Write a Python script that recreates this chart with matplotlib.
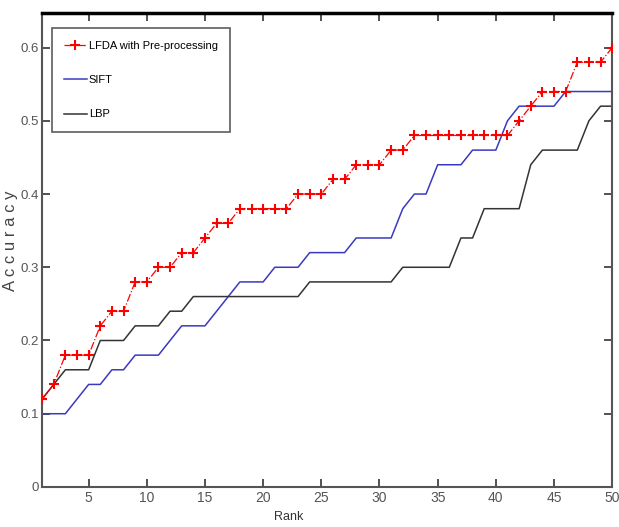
import numpy as np
import matplotlib
matplotlib.use("Agg")
import matplotlib.pyplot as plt

plt.rcParams['font.family'] = ['Liberation Sans', 'DejaVu Sans']

# CMC curves, rank 1..50
rank = np.arange(1, 51)

lfda = [0.12, 0.14, 0.18, 0.18, 0.18, 0.22, 0.24, 0.24, 0.28, 0.28,
        0.30, 0.30, 0.32, 0.32, 0.34, 0.36, 0.36, 0.38, 0.38, 0.38,
        0.38, 0.38, 0.40, 0.40, 0.40, 0.42, 0.42, 0.44, 0.44, 0.44,
        0.46, 0.46, 0.48, 0.48, 0.48, 0.48, 0.48, 0.48, 0.48, 0.48,
        0.48, 0.50, 0.52, 0.54, 0.54, 0.54, 0.58, 0.58, 0.58, 0.60]

sift = [0.10, 0.10, 0.10, 0.12, 0.14, 0.14, 0.16, 0.16, 0.18, 0.18,
        0.18, 0.20, 0.22, 0.22, 0.22, 0.24, 0.26, 0.28, 0.28, 0.28,
        0.30, 0.30, 0.30, 0.32, 0.32, 0.32, 0.32, 0.34, 0.34, 0.34,
        0.34, 0.38, 0.40, 0.40, 0.44, 0.44, 0.44, 0.46, 0.46, 0.46,
        0.50, 0.52, 0.52, 0.52, 0.52, 0.54, 0.54, 0.54, 0.54, 0.54]

lbp = [0.12, 0.14, 0.16, 0.16, 0.16, 0.20, 0.20, 0.20, 0.22, 0.22,
       0.22, 0.24, 0.24, 0.26, 0.26, 0.26, 0.26, 0.26, 0.26, 0.26,
       0.26, 0.26, 0.26, 0.28, 0.28, 0.28, 0.28, 0.28, 0.28, 0.28,
       0.28, 0.30, 0.30, 0.30, 0.30, 0.30, 0.34, 0.34, 0.38, 0.38,
       0.38, 0.38, 0.44, 0.46, 0.46, 0.46, 0.46, 0.50, 0.52, 0.52]

xticks = [5, 10, 15, 20, 25, 30, 35, 40, 45, 50]
yticks = [0, 0.1, 0.2, 0.3, 0.4, 0.5, 0.6]
ytick_labels = ['0', '0.1', '0.2', '0.3', '0.4', '0.5', '0.6']

fig = plt.figure(figsize=(6.19, 5.27), dpi=100)
ax = fig.add_axes([0.068, 0.076, 0.921, 0.899])

ax.plot(rank, lfda, color='red', linestyle='-.', linewidth=0.9,
        marker='+', markersize=6.5, markeredgewidth=1.5,
        label='LFDA with Pre-processing', zorder=3)
ax.plot(rank, sift, color='#3a3ac0', linewidth=1.1, label='SIFT', zorder=2)
ax.plot(rank, lbp, color='#333333', linewidth=1.1, label='LBP', zorder=2)

ax.set_xlim(1, 50)
ax.set_ylim(0, 0.647)
ax.set_xticks(xticks)
ax.set_yticks(yticks)
ax.set_yticklabels(ytick_labels)
ax.tick_params(direction='in', length=6, width=1.2, top=True, right=True,
               labelsize=10, colors='#333333', labelcolor='#555555', pad=3)
ax.tick_params(axis='y', labelsize=9.5, pad=2)

for s in ['left', 'bottom', 'right']:
    ax.spines[s].set_color('#555555')
    ax.spines[s].set_linewidth(1.5)
ax.spines['top'].set_color('black')
ax.spines['top'].set_linewidth(2.5)

ax.set_ylabel('A c c u r a c y', fontsize=12, color='#444444')
ax.yaxis.set_label_coords(-0.042, 0.52)
ax.set_xlabel('Rank', fontsize=9, color='#333333')
ax.xaxis.set_label_coords(0.433, -0.05)

leg = ax.legend(loc='upper left', bbox_to_anchor=(0.0175, 0.968), fontsize=8,
                frameon=True, fancybox=False, borderpad=1.1, labelspacing=2.2,
                handlelength=2.0, handletextpad=0.2, borderaxespad=0)
leg.get_frame().set_edgecolor('#333333')
leg.get_frame().set_linewidth(1.2)

fig.savefig('out.png', dpi=100)
